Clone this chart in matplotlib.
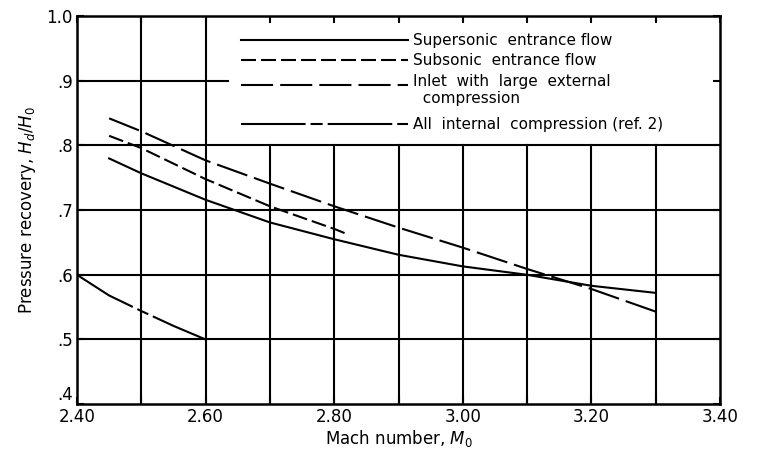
import numpy as np
import matplotlib
matplotlib.use("Agg")
import matplotlib.pyplot as plt

# Pressure recovery vs Mach number
mach = [2.45, 2.50, 2.60, 2.70, 2.80, 2.90, 3.00, 3.10, 3.20, 3.30]
supersonic = [0.780, 0.757, 0.716, 0.681, 0.655, 0.631, 0.613, 0.600, 0.583, 0.572]
inlet_ext = [0.842, 0.822, 0.777, 0.741, 0.706, 0.673, 0.642, 0.609, 0.578, 0.543]

mach_sub = [2.45, 2.50, 2.60, 2.70, 2.80, 2.82]
subsonic = [0.815, 0.796, 0.748, 0.706, 0.671, 0.663]

mach_int = [2.40, 2.45, 2.50, 2.55, 2.60]
internal = [0.600, 0.568, 0.544, 0.521, 0.500]

labels = ["Supersonic  entrance flow", "Subsonic  entrance flow",
          "Inlet  with  large  external\n  compression",
          "All  internal  compression (ref. 2)"]

x_ticks = [2.40, 2.60, 2.80, 3.00, 3.20, 3.40]
x_ticklabels = ["2.40", "2.60", "2.80", "3.00", "3.20", "3.40"]
y_ticks = [0.4, 0.5, 0.6, 0.7, 0.8, 0.9, 1.0]
y_ticklabels = [".4", ".5", ".6", ".7", ".8", ".9", "1.0"]

grid_x = [2.5, 2.6, 2.7, 2.8, 2.9, 3.0, 3.1, 3.2, 3.3]
grid_y = [0.5, 0.6, 0.7, 0.8, 0.9]

plt.rcParams['font.family'] = ['DejaVu Sans']
plt.rcParams['mathtext.fontset'] = 'dejavusans'

fig = plt.figure(figsize=(7.62, 4.5), dpi=100)
ax = fig.add_axes([0.101, 0.102, 0.844, 0.862])
ax.set_xlim(2.4, 3.4)
ax.set_ylim(0.4, 1.0)

# grid, cut out where the key sits (upper right)
for gx in grid_x:
    top = 1.0 if gx < 2.65 else (0.8 - 0.4) / 0.6
    ax.axvline(gx, ymin=0, ymax=top, color='k', lw=1.5, zorder=1)
for gy in grid_y:
    right = 1.0 if gy < 0.85 else (2.635 - 2.4) / 1.0
    ax.axhline(gy, xmin=0, xmax=right, color='k', lw=1.5, zorder=1)

lw = 1.5
styles = {
    'sup': dict(color='k', lw=lw, linestyle='-'),
    'sub': dict(color='k', lw=lw, linestyle=(0, (7.2, 2.4))),
    'ext': dict(color='k', lw=lw, linestyle=(0, (15.4, 3.4))),
    'int': dict(color='k', lw=lw, linestyle=(0, (31, 2.4, 5.8, 2.4))),
}

ax.plot(mach, supersonic, **styles['sup'], zorder=3)
ax.plot(mach_sub, subsonic, **styles['sub'], zorder=3)
ax.plot(mach, inlet_ext, **styles['ext'], zorder=3)
ax.plot(mach_int, internal, **styles['int'], zorder=3)

# hand-drawn style key
key_y = [0.963, 0.932, 0.893, 0.833]
key_x0, key_x1, txt_x = 2.655, 2.915, 2.922
for ky, key, lab in zip(key_y, ['sup', 'sub', 'ext', 'int'], labels):
    ax.plot([key_x0, key_x1], [ky, ky], **styles[key], zorder=3)
    ax.text(txt_x, ky, lab, fontsize=11, va='top' if '\n' in lab else 'center',
            ha='left', linespacing=1.1)
# first line of the two-line label should sit on its key line
ax.texts[2].set_y(key_y[2] + 0.017)

ax.set_xticks(x_ticks)
ax.set_xticklabels(x_ticklabels, fontsize=12)
ax.set_yticks(y_ticks)
ax.set_yticklabels(y_ticklabels, fontsize=12)
ax.set_xticks(grid_x, minor=True)
ax.set_yticks(grid_y, minor=True)
ax.tick_params(which='both', direction='in', top=True, right=True,
               length=5, width=1.5, pad=3)
# the ".4" sits just above the "2.40" like in the original
ax.get_yticklabels()[0].set_verticalalignment('bottom')

for sp in ax.spines.values():
    sp.set_linewidth(1.8)

ax.set_xlabel("Mach number, $M_0$", fontsize=12, labelpad=1)
ax.set_ylabel("Pressure recovery, $H_d/H_0$", fontsize=12, labelpad=6)

fig.savefig("out.png", dpi=100)
